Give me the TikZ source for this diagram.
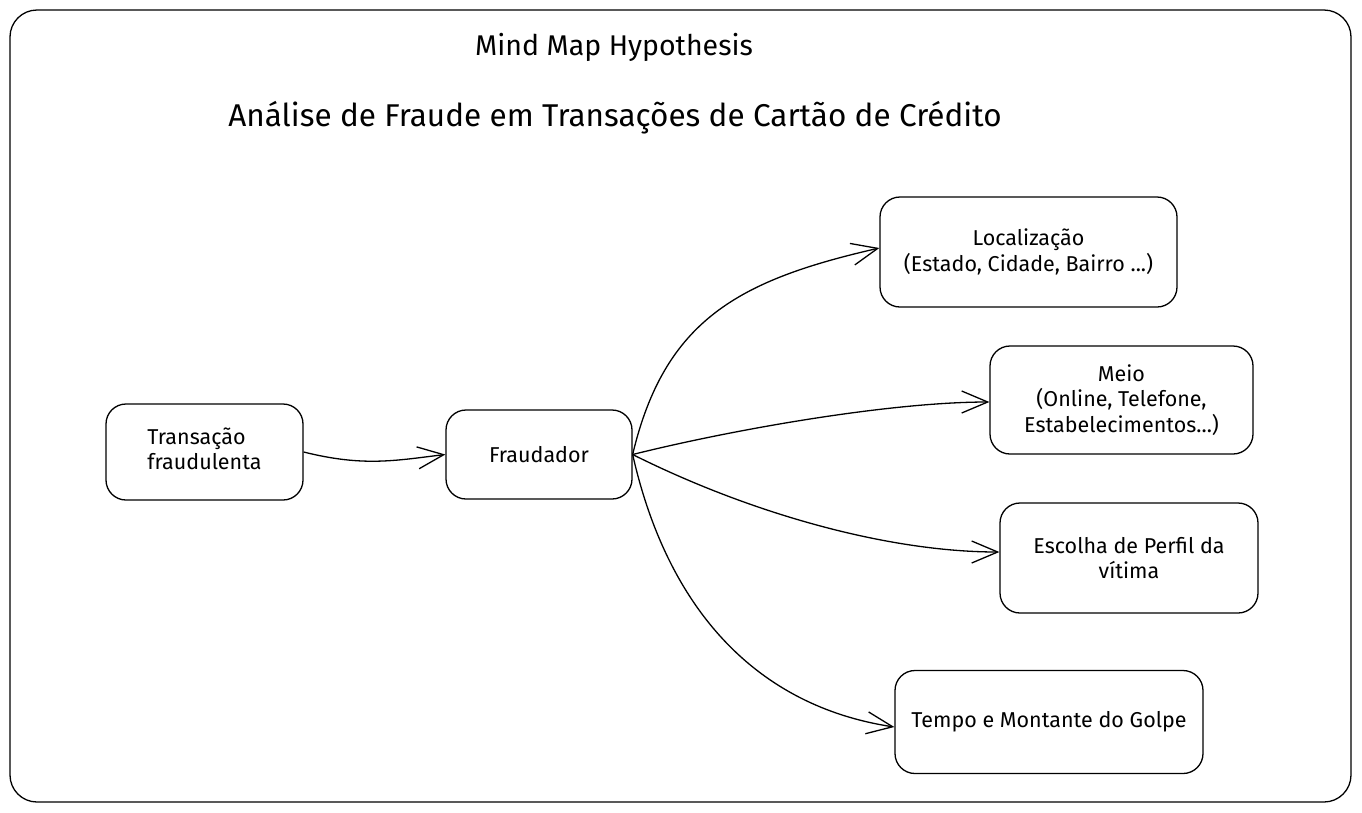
\documentclass[tikz,border=0pt]{standalone}
\usepackage{fontspec}
\setmainfont{Fira Sans}
\usetikzlibrary{arrows.meta}
\tikzset{
  box/.style={draw=black, line width=1.3pt, rounded corners=20pt, align=center,
    font=\fontsize{21.5}{25.5}\selectfont, inner sep=0pt},
  conn/.style={draw=black, line width=1.3pt, -{Straight Barb[length=26pt,width=22pt,line width=1.3pt]}},
  title/.style={inner sep=0pt}
}
\begin{document}
\begin{tikzpicture}[x=1pt,y=-1pt]
\useasboundingbox (0,0) rectangle (1362,812);
\node[draw=black, line width=1.3pt, rounded corners=27pt, minimum width=1341pt, minimum height=792pt, inner sep=0pt] (frame) at (680.5,406) {};
\node[title, font=\fontsize{28.5}{32}\selectfont] (t1) at (614,47) {Mind Map Hypothesis};
\node[title, font=\fontsize{31.5}{36}\selectfont] (t2) at (615,118) {Análise de Fraude em Transações de Cartão de Crédito};
\node[box, minimum width=197pt, minimum height=96pt] (tr) at (204.5,452) {\begin{tabular}{@{}l@{}}Transação\\fraudulenta\end{tabular}};
\node[box, minimum width=186pt, minimum height=89pt] (fr) at (539,454.5) {Fraudador};
\node[box, minimum width=297pt, minimum height=110pt] (loc) at (1028.5,252) {Localização\\(Estado, Cidade, Bairro ...)};
\node[box, minimum width=263pt, minimum height=108pt] (meio) at (1121.5,400) {Meio\\(Online, Telefone,\\Estabelecimentos...)};
\node[box, minimum width=258pt, minimum height=110pt] (esc) at (1129,558) {Escolha de Perfil da\\vítima};
\node[box, minimum width=308pt, minimum height=103pt] (tem) at (1049,722) {Tempo e Montante do Golpe};
\draw[conn] (tr.east) .. controls +(60,15) and +(-50,6) .. (fr.west);
\draw[conn] (fr.east) .. controls +(32,-135) and +(-140,32) .. ([yshift=4pt]loc.west);
\draw[conn] (fr.east) .. controls +(100,-25) and +(-100,0) .. ([yshift=-2pt]meio.west);
\draw[conn] (fr.east) .. controls +(120,60) and +(-110,0) .. ([yshift=6pt]esc.west);
\draw[conn] (fr.east) .. controls +(35,155) and +(-138,-21) .. ([yshift=-5pt]tem.west);
\end{tikzpicture}
\end{document}
